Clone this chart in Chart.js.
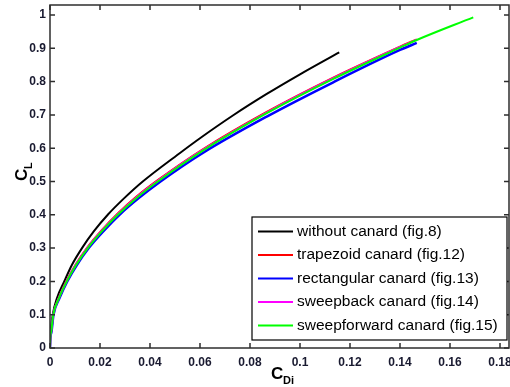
<!DOCTYPE html>
<html>
<head>
<meta charset="utf-8">
<script src="https://cdn.jsdelivr.net/npm/chart.js@4/dist/chart.umd.min.js"></script>
<style>
  body { margin: 0; background: #fff; }
  canvas { display: block; }
</style>
</head>
<body>
<canvas id="chartCanvas" width="510" height="387"></canvas>
<script>
// tick positions and labels
const xTicks = [0, 0.02, 0.04, 0.06, 0.08, 0.1, 0.12, 0.14, 0.16, 0.18];
const xTickLabels = ["0", "0.02", "0.04", "0.06", "0.08", "0.1", "0.12", "0.14", "0.16", "0.18"];
const yTicks = [0, 0.1, 0.2, 0.3, 0.4, 0.5, 0.6, 0.7, 0.8, 0.9, 1];
const yTickLabels = ["0", "0.1", "0.2", "0.3", "0.4", "0.5", "0.6", "0.7", "0.8", "0.9", "1"];

const seriesNames = [
    "without canard (fig.8)",
    "trapezoid canard (fig.12)",
    "rectangular canard (fig.13)",
    "sweepback canard (fig.14)",
    "sweepforward canard (fig.15)"
];
const seriesColors = ["#000000", "#ff0000", "#0000ff", "#ff00ff", "#00ff00"];

// C_Di (x) and C_L (y)
const blackX = [0, 0.0001, 0.0003, 0.0011, 0.0028, 0.0057, 0.0088, 0.0128, 0.0175, 0.0231, 0.0297, 0.0371, 0.0524, 0.0600, 0.0733, 0.0867, 0.1000, 0.1157];
const blackY = [0, 0.03, 0.05, 0.10, 0.15, 0.20, 0.25, 0.30, 0.35, 0.40, 0.45, 0.50, 0.588, 0.630, 0.699, 0.763, 0.822, 0.888];

const redX = [0, 0.0001, 0.0005, 0.0013, 0.0036, 0.0067, 0.0105, 0.0151, 0.0207, 0.0271, 0.0345, 0.0431, 0.0616, 0.0867, 0.1133, 0.1400, 0.1467];
const redY = [0, 0.03, 0.05, 0.10, 0.152, 0.203, 0.254, 0.304, 0.354, 0.404, 0.454, 0.504, 0.599, 0.709, 0.812, 0.905, 0.927];

const blueX = [0, 0.0001, 0.0005, 0.0014, 0.0038, 0.0069, 0.0108, 0.0155, 0.0213, 0.0278, 0.0355, 0.0442, 0.0616, 0.0867, 0.1133, 0.1400, 0.1467];
const blueY = [0, 0.03, 0.045, 0.10, 0.15, 0.20, 0.25, 0.30, 0.35, 0.40, 0.45, 0.50, 0.588, 0.695, 0.798, 0.895, 0.916];

const magentaX = [0, 0.0001, 0.0005, 0.0013, 0.0036, 0.0067, 0.0105, 0.0151, 0.0207, 0.0271, 0.0345, 0.0431, 0.0616, 0.0867, 0.1133, 0.1400, 0.1467];
const magentaY = [0, 0.03, 0.05, 0.10, 0.151, 0.201, 0.252, 0.302, 0.352, 0.402, 0.452, 0.502, 0.597, 0.707, 0.810, 0.904, 0.926];

const greenX = [0, 0.0001, 0.0005, 0.0013, 0.0036, 0.0067, 0.0105, 0.0151, 0.0207, 0.0271, 0.0345, 0.0431, 0.0616, 0.0867, 0.1133, 0.1400, 0.1467, 0.1693];
const greenY = [0, 0.03, 0.05, 0.10, 0.15, 0.20, 0.25, 0.30, 0.35, 0.40, 0.45, 0.50, 0.595, 0.705, 0.808, 0.902, 0.925, 0.993];

const allX = [blackX, redX, blueX, magentaX, greenX];
const allY = [blackY, redY, blueY, magentaY, greenY];

const tickFamily = "'Liberation Sans', Arial, sans-serif";
const labelColor = "#191a30";

function toPoints(xs, ys) {
    return xs.map((x, i) => ({ x: x, y: ys[i] }));
}

const datasets = seriesNames.map((name, i) => ({
    label: name,
    data: toPoints(allX[i], allY[i]),
    borderColor: seriesColors[i],
    backgroundColor: seriesColors[i],
    borderWidth: i === 2 ? 2.5 : 2,
    pointRadius: 0,
    showLine: true,
    fill: false,
    cubicInterpolationMode: "monotone",
    order: seriesNames.length - i
}));

// no extra room for half labels at the ends, the box is placed by hand
function noEdgePadding(scale) {
    scale.paddingLeft = 0;
    scale.paddingRight = 0;
    scale.paddingTop = 0;
    scale.paddingBottom = 0;
}

// box, inward ticks, axis titles and legend, matlab style
const framePlugin = {
    id: "frame",
    afterDraw(chart) {
        const ctx = chart.ctx;
        const a = chart.chartArea;
        const xs = chart.scales.x;
        const ys = chart.scales.y;

        ctx.save();
        ctx.strokeStyle = "#2e2e2e";
        ctx.lineWidth = 1.5;
        ctx.strokeRect(a.left, a.top, a.right - a.left, a.bottom - a.top);

        ctx.beginPath();
        xTicks.forEach(v => {
            const px = xs.getPixelForValue(v);
            ctx.moveTo(px, a.bottom);
            ctx.lineTo(px, a.bottom - 5);
            ctx.moveTo(px, a.top);
            ctx.lineTo(px, a.top + 5);
        });
        yTicks.forEach(v => {
            const py = ys.getPixelForValue(v);
            ctx.moveTo(a.left, py);
            ctx.lineTo(a.left + 5, py);
            ctx.moveTo(a.right, py);
            ctx.lineTo(a.right - 5, py);
        });
        ctx.stroke();

        // axis titles with subscripts
        ctx.fillStyle = "#000";
        ctx.textBaseline = "alphabetic";
        ctx.font = "bold 17px 'Liberation Sans', Arial, sans-serif";
        ctx.fillText("C", 271, 379);
        ctx.font = "bold 11px 'Liberation Sans', Arial, sans-serif";
        ctx.fillText("Di", 283, 384);

        ctx.save();
        ctx.translate(27, 181);
        ctx.rotate(-Math.PI / 2);
        ctx.font = "bold 17px 'Liberation Sans', Arial, sans-serif";
        ctx.fillText("C", 0, 0);
        ctx.font = "bold 11px 'Liberation Sans', Arial, sans-serif";
        ctx.fillText("L", 12, 5);
        ctx.restore();

        // legend
        const lx = 252, ly = 217, lw = 255, lh = 123;
        ctx.fillStyle = "#fff";
        ctx.fillRect(lx, ly, lw, lh);
        ctx.strokeStyle = "#000";
        ctx.lineWidth = 1.2;
        ctx.strokeRect(lx, ly, lw, lh);

        ctx.font = "15.5px 'Liberation Sans', Arial, sans-serif";
        ctx.textBaseline = "middle";
        chart.data.datasets.forEach((ds, i) => {
            const rowY = 231.5 + i * 23.5;
            ctx.strokeStyle = ds.borderColor;
            ctx.lineWidth = 2;
            ctx.beginPath();
            ctx.moveTo(258, rowY);
            ctx.lineTo(293, rowY);
            ctx.stroke();
            ctx.fillStyle = "#000";
            ctx.fillText(ds.label, 297, rowY);
        });
        ctx.restore();
    }
};

new Chart(document.getElementById("chartCanvas").getContext("2d"), {
    type: "scatter",
    data: { datasets: datasets },
    options: {
        responsive: false,
        animation: false,
        devicePixelRatio: 1,
        layout: { padding: { top: 5, right: 1, left: 0, bottom: 0 } },
        plugins: {
            legend: { display: false },
            tooltip: { enabled: false }
        },
        scales: {
            x: {
                type: "linear",
                min: 0,
                max: 0.1836,
                grid: { display: false, drawTicks: false },
                border: { display: false },
                afterBuildTicks: scale => {
                    scale.ticks = xTicks.map(v => ({ value: v }));
                },
                afterFit: scale => {
                    scale.height = 39;
                    noEdgePadding(scale);
                },
                ticks: {
                    autoSkip: false,
                    maxRotation: 0,
                    padding: 7,
                    color: labelColor,
                    font: { family: tickFamily, size: 12, weight: "bold" },
                    callback: (v, i) => xTickLabels[i]
                }
            },
            y: {
                type: "linear",
                min: 0,
                max: 1.03,
                grid: { display: false, drawTicks: false },
                border: { display: false },
                afterBuildTicks: scale => {
                    scale.ticks = yTicks.map(v => ({ value: v }));
                },
                afterFit: scale => {
                    scale.width = 50;
                    noEdgePadding(scale);
                },
                ticks: {
                    autoSkip: false,
                    padding: 4,
                    color: labelColor,
                    font: { family: tickFamily, size: 12, weight: "bold" },
                    callback: (v, i) => yTickLabels[i]
                }
            }
        }
    },
    plugins: [framePlugin]
});
</script>
</body>
</html>
